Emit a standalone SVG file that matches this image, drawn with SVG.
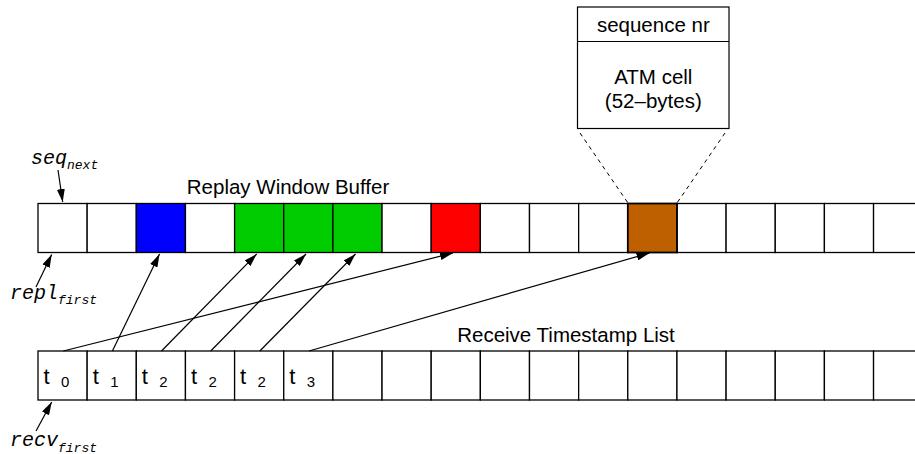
<svg xmlns="http://www.w3.org/2000/svg" width="915" height="454" viewBox="0 0 915 454">
  <style>
    .cell { fill: #ffffff; stroke: #000000; stroke-width: 1.3; }
    .blue { fill: #0000ff; }
    .green { fill: #00cc00; }
    .red { fill: #ff0000; }
    .brown { fill: #bf6000; stroke-width: 1.8; }
    .box { fill: #ffffff; stroke: #000000; stroke-width: 1.2; }
    .lbl { font-family: "Liberation Sans", Arial, Helvetica, sans-serif; font-size: 20.5px; fill: #000000; }
    .ts { font-family: "Liberation Sans", Arial, Helvetica, sans-serif; font-size: 22px; fill: #000000; }
    .sub { font-family: "Liberation Sans", Arial, Helvetica, sans-serif; font-size: 15px; fill: #000000; }
    .ptr { font-family: "Liberation Mono", "Courier New", monospace; font-style: italic; font-size: 20px; fill: #000000; }
    .ptrsub { font-size: 13px; }
    .arrow { fill: none; stroke: #000000; stroke-width: 1.2; marker-end: url(#head); }
    .dash { fill: none; stroke: #000000; stroke-width: 1; stroke-dasharray: 4 4; }
  </style>
  <defs>
    <marker id="head" viewBox="0 0 13 8" refX="13" refY="4" markerWidth="13" markerHeight="8" markerUnits="userSpaceOnUse" orient="auto">
      <path d="M0,0 L13,4 L0,8 z" fill="#000000"/>
    </marker>
  </defs>

  <!-- cell payload detail -->
  <g id="cell-detail">
    <rect class="box" x="577.5" y="7" width="151.5" height="121.5"/>
    <line x1="577.5" y1="41.5" x2="729" y2="41.5" stroke="#000000" stroke-width="1.2"/>
    <text class="lbl" x="653.3" y="32" text-anchor="middle">sequence nr</text>
    <text class="lbl" x="653.3" y="83.5" text-anchor="middle">ATM cell</text>
    <text class="lbl" x="653.3" y="107.5" text-anchor="middle">(52–bytes)</text>
  </g>

  <!-- replay window buffer -->
  <g id="replay-buffer">
    <text class="lbl" x="288" y="193.5" text-anchor="middle">Replay Window Buffer</text>
    <rect class="cell" x="38" y="203.5" width="49.15" height="49"/>
    <rect class="cell" x="87.15" y="203.5" width="49.15" height="49"/>
    <rect class="cell blue" x="136.3" y="203.5" width="49.15" height="49"/>
    <rect class="cell" x="185.45" y="203.5" width="49.15" height="49"/>
    <rect class="cell green" x="234.6" y="203.5" width="49.15" height="49"/>
    <rect class="cell green" x="283.75" y="203.5" width="49.15" height="49"/>
    <rect class="cell green" x="332.9" y="203.5" width="49.15" height="49"/>
    <rect class="cell" x="382.05" y="203.5" width="49.15" height="49"/>
    <rect class="cell red" x="431.2" y="203.5" width="49.15" height="49"/>
    <rect class="cell" x="480.35" y="203.5" width="49.15" height="49"/>
    <rect class="cell" x="529.5" y="203.5" width="49.15" height="49"/>
    <rect class="cell" x="578.65" y="203.5" width="49.15" height="49"/>
    <rect class="cell" x="676.95" y="203.5" width="49.15" height="49"/>
    <rect class="cell" x="726.1" y="203.5" width="49.15" height="49"/>
    <rect class="cell" x="775.25" y="203.5" width="49.15" height="49"/>
    <rect class="cell" x="824.4" y="203.5" width="49.15" height="49"/>
    <rect class="cell" x="873.55" y="203.5" width="49.15" height="49"/>
    <rect class="cell brown" x="627.8" y="203.5" width="49.15" height="49"/>
  </g>

  <!-- receive timestamp list -->
  <g id="timestamp-list">
    <text class="lbl" x="566" y="342" text-anchor="middle">Receive Timestamp List</text>
    <rect class="cell" x="38" y="351" width="49.15" height="49"/>
    <rect class="cell" x="87.15" y="351" width="49.15" height="49"/>
    <rect class="cell" x="136.3" y="351" width="49.15" height="49"/>
    <rect class="cell" x="185.45" y="351" width="49.15" height="49"/>
    <rect class="cell" x="234.6" y="351" width="49.15" height="49"/>
    <rect class="cell" x="283.75" y="351" width="49.15" height="49"/>
    <rect class="cell" x="332.9" y="351" width="49.15" height="49"/>
    <rect class="cell" x="382.05" y="351" width="49.15" height="49"/>
    <rect class="cell" x="431.2" y="351" width="49.15" height="49"/>
    <rect class="cell" x="480.35" y="351" width="49.15" height="49"/>
    <rect class="cell" x="529.5" y="351" width="49.15" height="49"/>
    <rect class="cell" x="578.65" y="351" width="49.15" height="49"/>
    <rect class="cell" x="627.8" y="351" width="49.15" height="49"/>
    <rect class="cell" x="676.95" y="351" width="49.15" height="49"/>
    <rect class="cell" x="726.1" y="351" width="49.15" height="49"/>
    <rect class="cell" x="775.25" y="351" width="49.15" height="49"/>
    <rect class="cell" x="824.4" y="351" width="49.15" height="49"/>
    <rect class="cell" x="873.55" y="351" width="49.15" height="49"/>
    <text class="ts" x="43.5" y="383.5">t</text><text class="sub" x="61" y="387">0</text>
    <text class="ts" x="92.65" y="383.5">t</text><text class="sub" x="110.15" y="387">1</text>
    <text class="ts" x="141.8" y="383.5">t</text><text class="sub" x="159.3" y="387">2</text>
    <text class="ts" x="190.95" y="383.5">t</text><text class="sub" x="208.45" y="387">2</text>
    <text class="ts" x="240.1" y="383.5">t</text><text class="sub" x="257.6" y="387">2</text>
    <text class="ts" x="289.25" y="383.5">t</text><text class="sub" x="306.75" y="387">3</text>
  </g>

  <!-- pointer labels -->
  <g id="seq-next">
    <text class="ptr" x="31" y="163.5">seq<tspan class="ptrsub" dy="5">next</tspan></text>
  </g>
  <g id="repl-first">
    <text class="ptr" x="10" y="299">repl<tspan class="ptrsub" dy="5">first</tspan></text>
  </g>
  <g id="recv-first">
    <text class="ptr" x="10" y="446">recv<tspan class="ptrsub" dy="5.5">first</tspan></text>
  </g>

  <!-- connectors -->
  <g id="connectors">
    <line class="dash" x1="580" y1="133" x2="628" y2="203"/>
    <line class="dash" x1="725" y1="133" x2="677" y2="203"/>
    <line class="arrow" x1="58" y1="170" x2="62.7" y2="202"/>
    <line class="arrow" x1="36" y1="287" x2="51.7" y2="254.5"/>
    <line class="arrow" x1="36" y1="431" x2="51.7" y2="402"/>
    <line class="arrow" x1="63.3" y1="351" x2="453" y2="253"/>
    <line class="arrow" x1="112.4" y1="351" x2="159.5" y2="254"/>
    <line class="arrow" x1="161.5" y1="351" x2="256.7" y2="254"/>
    <line class="arrow" x1="210.7" y1="351" x2="306" y2="254"/>
    <line class="arrow" x1="259.8" y1="351" x2="355.5" y2="254"/>
    <line class="arrow" x1="309" y1="351" x2="649.5" y2="253"/>
  </g>
</svg>
